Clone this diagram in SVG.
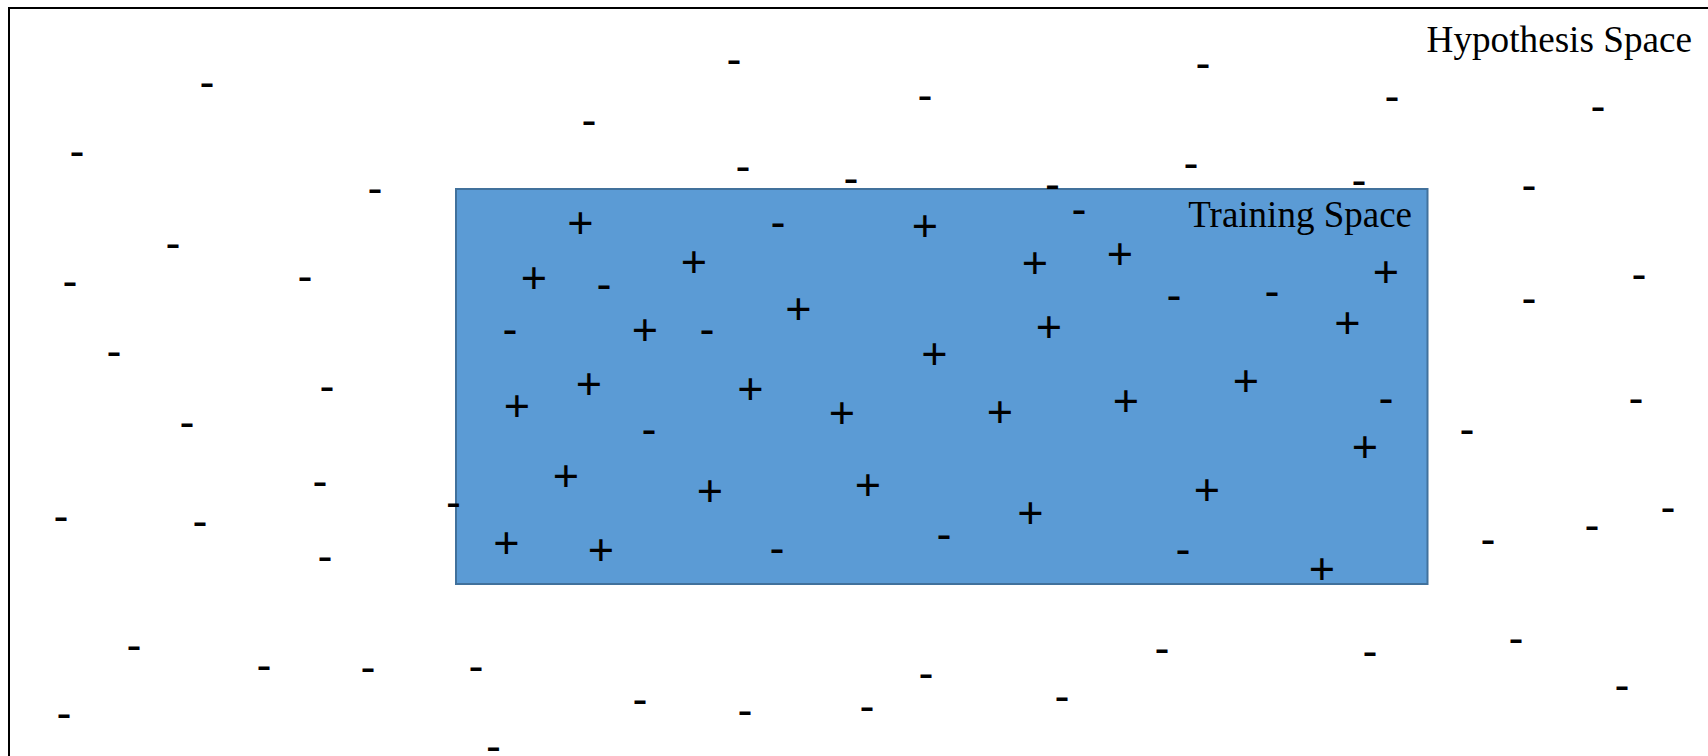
<svg xmlns="http://www.w3.org/2000/svg" width="1708" height="756" viewBox="0 0 1708 756">
<style>
.lbl{font-family:"Liberation Serif","Times New Roman",serif;fill:#000;text-anchor:end}
.p,.m{font-family:"Liberation Sans",Arial,sans-serif;font-size:45px;fill:#000;text-anchor:middle}
</style>
<rect x="0" y="0" width="1708" height="756" fill="#fff"/>
<g id="hypothesis-space">
<rect x="9" y="8" width="1720" height="770" fill="none" stroke="#000" stroke-width="2"/>
<text class="lbl" x="1692" y="51.7" font-size="37.2">Hypothesis Space</text>
</g>
<g id="training-space">
<rect x="456" y="189" width="971.5" height="395" fill="#5B9BD5" stroke="#41719C" stroke-width="2"/>
<text class="lbl" x="1412" y="226.7" font-size="37">Training Space</text>
</g>
<g id="negatives">
<text class="m" x="207" y="96.7">-</text>
<text class="m" x="734" y="73.7">-</text>
<text class="m" x="1203" y="77.7">-</text>
<text class="m" x="925" y="109.7">-</text>
<text class="m" x="1392" y="110.7">-</text>
<text class="m" x="1598" y="120.7">-</text>
<text class="m" x="589" y="134.7">-</text>
<text class="m" x="77" y="165.7">-</text>
<text class="m" x="743" y="180.7">-</text>
<text class="m" x="1191" y="177.7">-</text>
<text class="m" x="851" y="192.7">-</text>
<text class="m" x="375" y="202.7">-</text>
<text class="m" x="1052.5" y="198.7">-</text>
<text class="m" x="1359" y="194.7">-</text>
<text class="m" x="1529" y="199.7">-</text>
<text class="m" x="1079" y="223.7">-</text>
<text class="m" x="778" y="237.2">-</text>
<text class="m" x="173" y="257.7">-</text>
<text class="m" x="70" y="295.7">-</text>
<text class="m" x="305" y="290.7">-</text>
<text class="m" x="604" y="298.7">-</text>
<text class="m" x="1174" y="309.7">-</text>
<text class="m" x="1272" y="305.7">-</text>
<text class="m" x="1529" y="312.7">-</text>
<text class="m" x="1639" y="288.7">-</text>
<text class="m" x="510" y="343.7">-</text>
<text class="m" x="707" y="343.7">-</text>
<text class="m" x="114" y="365.7">-</text>
<text class="m" x="327" y="400.7">-</text>
<text class="m" x="187" y="436.7">-</text>
<text class="m" x="649" y="443.7">-</text>
<text class="m" x="1386" y="412.7">-</text>
<text class="m" x="1636" y="412.7">-</text>
<text class="m" x="1467" y="443.7">-</text>
<text class="m" x="320" y="495.7">-</text>
<text class="m" x="61" y="530.7">-</text>
<text class="m" x="200" y="535.7">-</text>
<text class="m" x="453.5" y="516.7">-</text>
<text class="m" x="325" y="570.7">-</text>
<text class="m" x="777" y="562.7">-</text>
<text class="m" x="944" y="548.7">-</text>
<text class="m" x="1183" y="563.7">-</text>
<text class="m" x="1488" y="553.7">-</text>
<text class="m" x="1592" y="539.7">-</text>
<text class="m" x="1668" y="521.7">-</text>
<text class="m" x="134" y="659.7">-</text>
<text class="m" x="264" y="679.7">-</text>
<text class="m" x="368" y="681.7">-</text>
<text class="m" x="476" y="680.7">-</text>
<text class="m" x="926" y="687.7">-</text>
<text class="m" x="1162" y="662.7">-</text>
<text class="m" x="1370" y="665.7">-</text>
<text class="m" x="1516" y="652.7">-</text>
<text class="m" x="1622" y="699.7">-</text>
<text class="m" x="64" y="727.7">-</text>
<text class="m" x="640" y="713.7">-</text>
<text class="m" x="745" y="724.7">-</text>
<text class="m" x="867" y="720.7">-</text>
<text class="m" x="1062" y="710.7">-</text>
<text class="m" x="493.5" y="760.7">-</text>
</g>
<g id="positives">
<text class="p" x="580.5" y="238.4">+</text>
<text class="p" x="925" y="240.9">+</text>
<text class="p" x="694" y="276.9">+</text>
<text class="p" x="534" y="293.4">+</text>
<text class="p" x="1035" y="277.9">+</text>
<text class="p" x="1120" y="268.9">+</text>
<text class="p" x="1386" y="286.9">+</text>
<text class="p" x="798.5" y="323.9">+</text>
<text class="p" x="645" y="344.9">+</text>
<text class="p" x="1049" y="341.9">+</text>
<text class="p" x="1347.5" y="337.9">+</text>
<text class="p" x="934.5" y="368.9">+</text>
<text class="p" x="589" y="398.9">+</text>
<text class="p" x="517" y="420.9">+</text>
<text class="p" x="750.5" y="403.9">+</text>
<text class="p" x="842" y="427.9">+</text>
<text class="p" x="1000" y="426.9">+</text>
<text class="p" x="1126" y="415.9">+</text>
<text class="p" x="1246" y="395.9">+</text>
<text class="p" x="1365" y="461.9">+</text>
<text class="p" x="566" y="490.9">+</text>
<text class="p" x="710" y="505.9">+</text>
<text class="p" x="868" y="499.9">+</text>
<text class="p" x="1207" y="504.9">+</text>
<text class="p" x="1030.5" y="528.4">+</text>
<text class="p" x="506.5" y="558.4">+</text>
<text class="p" x="601" y="564.9">+</text>
<text class="p" x="1322" y="583.9">+</text>
</g>
</svg>
